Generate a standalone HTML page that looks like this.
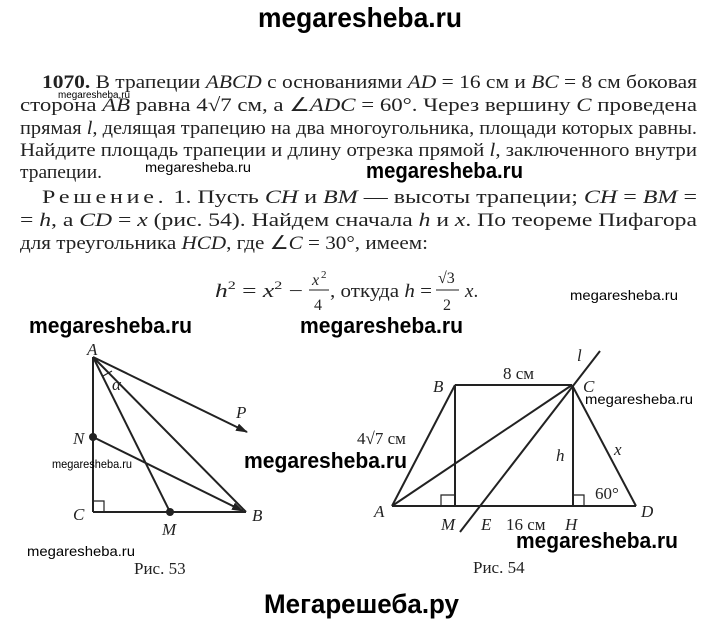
<!DOCTYPE html>
<html><head><meta charset="utf-8"><style>
html,body{margin:0;padding:0;background:#fff;width:720px;height:623px;overflow:hidden}
svg{display:block}
.t{font-family:"Liberation Serif",serif;font-size:19px;fill:#222}
.i{font-style:italic}
.wb{font-family:"Liberation Sans",sans-serif;font-weight:bold;fill:#000}
.ws{font-family:"Liberation Sans",sans-serif;fill:#000}
.lb{font-family:"Liberation Serif",serif;font-style:italic;font-size:17px;fill:#222}
.lr{font-family:"Liberation Serif",serif;font-size:17px;fill:#222}
</style></head><body>
<svg width="720" height="623" viewBox="0 0 720 623" xmlns="http://www.w3.org/2000/svg">
<defs><marker id="ar" markerWidth="12" markerHeight="8" refX="11" refY="4" orient="auto" markerUnits="userSpaceOnUse"><path d="M0,0 L12,4 L0,8 z" fill="#222"/></marker></defs>
<text class="wb" x="258" y="27" font-size="28" textLength="204" lengthAdjust="spacingAndGlyphs">megaresheba.ru</text>

<text class="t" x="42" y="88" textLength="655" lengthAdjust="spacingAndGlyphs"><tspan font-weight="bold">1070.</tspan> В трапеции <tspan class="i">ABCD</tspan> с основаниями <tspan class="i">AD</tspan> = 16 см и <tspan class="i">BC</tspan> = 8 см боковая</text>
<text class="ws" x="58" y="98" font-size="10" textLength="72" lengthAdjust="spacingAndGlyphs">megaresheba.ru</text>
<text class="t" x="20" y="111" textLength="677" lengthAdjust="spacingAndGlyphs">сторона <tspan class="i">AB</tspan> равна 4√7 см, а ∠<tspan class="i">ADC</tspan> = 60°. Через вершину <tspan class="i">C</tspan> проведена</text>
<text class="t" x="20" y="134" textLength="677" lengthAdjust="spacingAndGlyphs">прямая <tspan class="i">l</tspan>, делящая трапецию на два многоугольника, площади которых равны.</text>
<text class="t" x="20" y="156" textLength="677" lengthAdjust="spacingAndGlyphs">Найдите площадь трапеции и длину отрезка прямой <tspan class="i">l</tspan>, заключенного внутри</text>
<text class="t" x="20" y="178" textLength="82" lengthAdjust="spacingAndGlyphs">трапеции.</text>
<text class="ws" x="145" y="172" font-size="14" textLength="106" lengthAdjust="spacingAndGlyphs">megaresheba.ru</text>
<text class="wb" x="366" y="178" font-size="22" textLength="157" lengthAdjust="spacingAndGlyphs">megaresheba.ru</text>
<text class="t" x="42" y="203" textLength="655" lengthAdjust="spacingAndGlyphs"><tspan letter-spacing="3">Решение.</tspan> 1. Пусть <tspan class="i">CH</tspan> и <tspan class="i">BM</tspan> — высоты трапеции; <tspan class="i">CH</tspan> = <tspan class="i">BM</tspan> =</text>
<text class="t" x="20" y="226" textLength="677" lengthAdjust="spacingAndGlyphs">= <tspan class="i">h</tspan>, а <tspan class="i">CD</tspan> = <tspan class="i">x</tspan> (рис. 54). Найдем сначала <tspan class="i">h</tspan> и <tspan class="i">x</tspan>. По теореме Пифагора</text>
<text class="t" x="20" y="249" textLength="408" lengthAdjust="spacingAndGlyphs">для треугольника <tspan class="i">HCD</tspan>, где ∠<tspan class="i">C</tspan> = 30°, имеем:</text>

<text class="t" x="215" y="297" textLength="88" lengthAdjust="spacingAndGlyphs"><tspan class="i">h</tspan><tspan style="font-size:12px" dy="-8">2</tspan><tspan dy="8"> = </tspan><tspan class="i">x</tspan><tspan style="font-size:12px" dy="-8">2</tspan><tspan dy="8"> −</tspan></text>
<text class="t i" x="312" y="285" style="font-size:16px">x</text><text class="t" x="321" y="278" style="font-size:11px">2</text>
<line x1="309" y1="290" x2="329" y2="290" stroke="#222" stroke-width="1"/>
<text class="t" x="314" y="310" style="font-size:16px">4</text>
<text class="t" x="330" y="297" textLength="102" lengthAdjust="spacingAndGlyphs">, откуда <tspan class="i">h</tspan> =</text>
<text class="t" x="438" y="283" style="font-size:16px">√3</text>
<line x1="436" y1="290" x2="459" y2="290" stroke="#222" stroke-width="1"/>
<text class="t" x="443" y="310" style="font-size:16px">2</text>
<text class="t" x="465" y="297"><tspan class="i">x</tspan>.</text>
<text class="ws" x="570" y="300" font-size="14" textLength="108" lengthAdjust="spacingAndGlyphs">megaresheba.ru</text>
<text class="wb" x="29" y="333" font-size="22" textLength="163" lengthAdjust="spacingAndGlyphs">megaresheba.ru</text>
<text class="wb" x="300" y="333" font-size="22" textLength="163" lengthAdjust="spacingAndGlyphs">megaresheba.ru</text>

<!-- Fig 53 -->
<g stroke="#222" stroke-width="2" fill="none">
<line x1="93" y1="357" x2="93" y2="512"/>
<line x1="93" y1="512" x2="246" y2="512"/>
<line x1="93" y1="357" x2="246" y2="512"/>
<line x1="93" y1="357" x2="170" y2="512"/>
<line x1="93" y1="357" x2="247" y2="432" marker-end="url(#ar)"/>
<line x1="93" y1="437" x2="243" y2="511" marker-end="url(#ar)"/>
<path d="M93,501 H104 V512" stroke-width="1.2"/>
<path d="M103,376 L112,371" stroke-width="1.2"/>
</g>
<circle cx="93" cy="437" r="4" fill="#222"/>
<circle cx="170" cy="512" r="4" fill="#222"/>
<text class="lb" x="87" y="355">A</text>
<text class="lb" x="112" y="390">α</text>
<text class="lb" x="236" y="418">P</text>
<text class="lb" x="73" y="444">N</text>
<text class="lb" x="73" y="520">C</text>
<text class="lb" x="162" y="535">M</text>
<text class="lb" x="252" y="521">B</text>
<text class="ws" x="52" y="468" font-size="12" textLength="80" lengthAdjust="spacingAndGlyphs">megaresheba.ru</text>
<text class="wb" x="244" y="468" font-size="22" textLength="163" lengthAdjust="spacingAndGlyphs">megaresheba.ru</text>
<text class="ws" x="27" y="556" font-size="14" textLength="108" lengthAdjust="spacingAndGlyphs">megaresheba.ru</text>
<text class="lr" x="134" y="574">Рис. 53</text>

<!-- Fig 54 -->
<g stroke="#222" stroke-width="2" fill="none">
<line x1="392" y1="506" x2="636" y2="506"/>
<line x1="392" y1="506" x2="455" y2="385"/>
<line x1="455" y1="385" x2="572" y2="385"/>
<line x1="572" y1="385" x2="636" y2="506"/>
<line x1="455" y1="385" x2="455" y2="506"/>
<line x1="573" y1="385" x2="573" y2="506"/>
<line x1="392" y1="506" x2="572" y2="385"/>
<line x1="460" y1="532" x2="600" y2="351"/>
<path d="M441,506 V495 H455" stroke-width="1.2"/>
<path d="M573,495 H584 V506" stroke-width="1.2"/>
</g>
<text class="lb" x="577" y="361">l</text>
<text class="lr" x="503" y="379">8 см</text>
<text class="lb" x="433" y="392">B</text>
<text class="lb" x="583" y="392">C</text>
<text class="ws" x="585" y="404" font-size="14" textLength="108" lengthAdjust="spacingAndGlyphs">megaresheba.ru</text>
<text class="lr" x="357" y="444">4√7 см</text>
<text class="lb" x="556" y="461">h</text>
<text class="lb" x="614" y="455">x</text>
<text class="lr" x="595" y="499">60°</text>
<text class="lb" x="374" y="517">A</text>
<text class="lb" x="441" y="530">M</text>
<text class="lb" x="481" y="530">E</text>
<text class="lr" x="506" y="530">16 см</text>
<text class="lb" x="565" y="530">H</text>
<text class="lb" x="641" y="517">D</text>
<text class="wb" x="516" y="548" font-size="22" textLength="162" lengthAdjust="spacingAndGlyphs">megaresheba.ru</text>
<text class="lr" x="473" y="573">Рис. 54</text>

<text class="wb" x="264" y="613" font-size="27" textLength="195" lengthAdjust="spacingAndGlyphs">Мегарешеба.ру</text>
</svg>
</body></html>
